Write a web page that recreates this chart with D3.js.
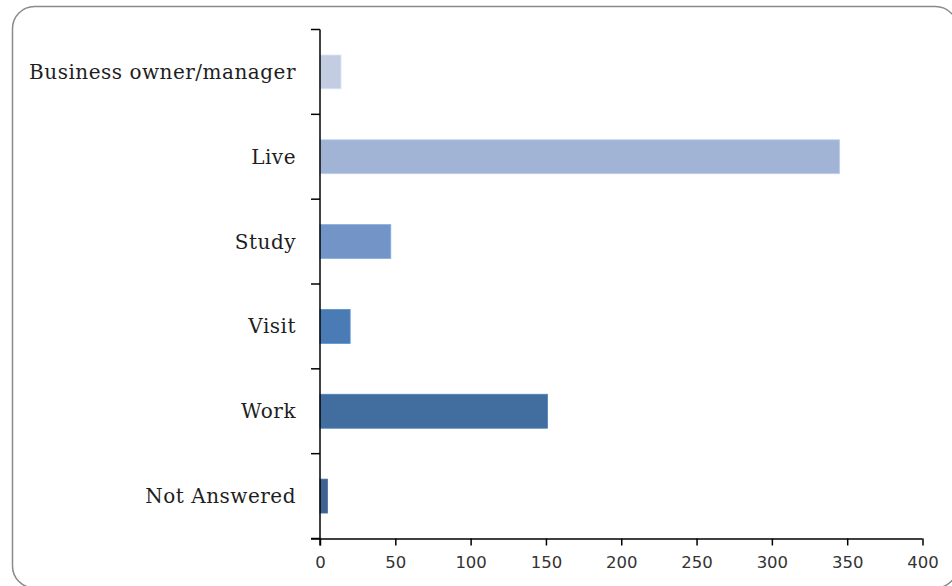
<!DOCTYPE html>
<html>
<head>
<meta charset="utf-8">
<script src="https://cdn.jsdelivr.net/npm/d3@7"></script>
<style>
  html, body { margin: 0; padding: 0; background: #fff; }
  svg { display: block; }
</style>
</head>
<body>
<svg id="chart" width="952" height="586"></svg>
<script>
// Respondent connection to the area (counts)
const categories = ["Business owner/manager", "Live", "Study", "Visit", "Work", "Not Answered"];
const values = [14, 345, 47, 20, 151, 5];
const barColors = ["#c2cde2", "#a2b4d5", "#7394c6", "#4a7bb5", "#426d9f", "#3f6293"];
const xTicks = [0, 50, 100, 150, 200, 250, 300, 350, 400];

const svg = d3.select("#chart");

// rounded chart frame
svg.append("rect")
  .attr("x", 12.5).attr("y", 6.5)
  .attr("width", 945).attr("height", 581.5)
  .attr("rx", 22).attr("ry", 22)
  .attr("fill", "#fff")
  .attr("stroke", "#8a8a8a")
  .attr("stroke-width", 1.5);

const plot = { left: 320, right: 922.5, top: 29.5, bottom: 538.5 };

const x = d3.scaleLinear().domain([0, 400]).range([plot.left, plot.right]);
const y = d3.scaleBand().domain(categories).range([plot.top, plot.bottom])
  .paddingInner(0.6).paddingOuter(0.3);
const step = y.step();

// bars
svg.append("g").selectAll("rect")
  .data(categories)
  .join("rect")
  .attr("x", x(0))
  .attr("y", d => y(d))
  .attr("width", (d, i) => x(values[i]) - x(0))
  .attr("height", y.bandwidth())
  .attr("fill", (d, i) => barColors[i])
  .attr("stroke", (d, i) => d3.color(barColors[i]).brighter(0.4))
  .attr("stroke-width", 0.8);

// x axis
const xAxis = svg.append("g")
  .attr("transform", `translate(0,${plot.bottom})`)
  .call(d3.axisBottom(x).tickValues(xTicks).tickSize(7).tickPadding(11).tickFormat(d3.format("d")));
xAxis.select(".domain").attr("stroke", "#000").attr("stroke-width", 1.5)
  .attr("d", `M${plot.left - 9},0.5H${plot.right}`);
xAxis.selectAll(".tick line").attr("stroke", "#000").attr("stroke-width", 1.5);
xAxis.selectAll(".tick text")
  .attr("fill", "#333")
  .style("font-family", "'DejaVu Sans', sans-serif")
  .style("font-size", "16.5px");

// y axis: ticks sit on the category boundaries
const boundaries = d3.range(categories.length + 1).map(i => plot.top + i * step);
const yAxis = svg.append("g");
yAxis.append("line")
  .attr("x1", plot.left).attr("x2", plot.left)
  .attr("y1", plot.top).attr("y2", plot.bottom + 7)
  .attr("stroke", "#000").attr("stroke-width", 1.5);
yAxis.selectAll("line.tick")
  .data(boundaries)
  .join("line")
  .attr("class", "tick")
  .attr("x1", plot.left - 9).attr("x2", plot.left)
  .attr("y1", d => d).attr("y2", d => d)
  .attr("stroke", "#000").attr("stroke-width", 1.5);

// category labels
svg.append("g").selectAll("text")
  .data(categories)
  .join("text")
  .attr("x", 296)
  .attr("y", d => y(d) + y.bandwidth() / 2)
  .attr("dy", "0.35em")
  .attr("text-anchor", "end")
  .attr("fill", "#1e1e1e")
  .style("font-family", "'DejaVu Serif', serif")
  .style("font-size", "20px")
  .style("letter-spacing", "0.5px")
  .text(d => d);
</script>
</body>
</html>
